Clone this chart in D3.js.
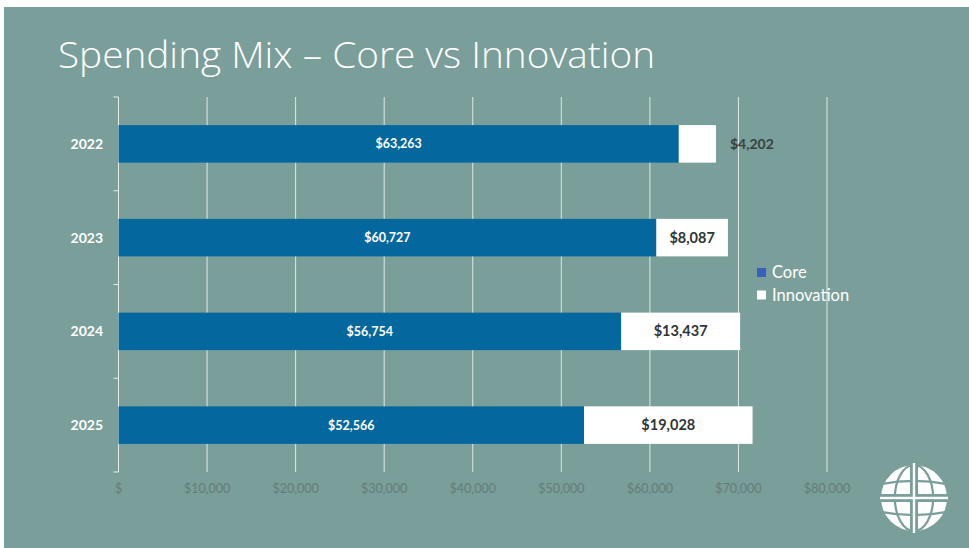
<!DOCTYPE html>
<html>
    <head>
        <title>Spending Mix</title>
        <meta charset="UTF-8">
        <script src="https://cdn.jsdelivr.net/npm/d3@7"></script>
        <style>
            body { margin: 0; background: #fff; }
            text { font-family: Lato, "Open Sans", sans-serif; }
        </style>
    </head>
    <body>
        <svg width="969" height="548"></svg>
        <script>
            // data
            var years = ['2022', '2023', '2024', '2025'];
            var core = [63263, 60727, 56754, 52566];
            var innovation = [4202, 8087, 13437, 19028];
            var seriesNames = ['Core', 'Innovation'];
            var xTicks = [0, 10000, 20000, 30000, 40000, 50000, 60000, 70000, 80000];

            var svg = d3.select('svg');
            var coreColor = '#04679e',
                innoColor = '#ffffff',
                bgColor = '#7a9e99';

            // slide background (thin white border top/left)
            svg.append('rect').attr('x', 4).attr('y', 7).attr('width', 965).attr('height', 541).attr('fill', bgColor);

            // title
            svg.append('text')
                .attr('x', 58).attr('y', 68)
                .attr('fill', '#fff')
                .style('font-family', '"Open Sans", sans-serif')
                .style('font-size', '36px')
                .style('font-weight', 300)
                .attr('textLength', 597)
                .attr('lengthAdjust', 'spacingAndGlyphs')
                .text('Spending Mix \u2013 Core vs Innovation');

            var x = d3.scaleLinear().domain([0, 80000]).range([118.5, 827]);
            var y = d3.scaleBand().domain(years).range([97, 472]).paddingInner(0.6).paddingOuter(0.3);

            var plotTop = 97, plotBottom = 472;

            // gridlines
            svg.append('g').selectAll('line')
                .data(xTicks.slice(1))
                .enter().append('line')
                .attr('x1', function(d) { return x(d); })
                .attr('x2', function(d) { return x(d); })
                .attr('y1', plotTop).attr('y2', plotBottom)
                .attr('stroke', '#dfe9e7').attr('stroke-width', 1);

            // category axis line + ticks between categories
            var yAxis = svg.append('g');
            yAxis.append('line')
                .attr('x1', x(0)).attr('x2', x(0))
                .attr('y1', plotTop).attr('y2', plotBottom)
                .attr('stroke', '#e4ecea').attr('stroke-width', 1);
            var step = y.step();
            yAxis.selectAll('.tk')
                .data(d3.range(years.length + 1))
                .enter().append('line')
                .attr('class', 'tk')
                .attr('x1', x(0) - 5).attr('x2', x(0))
                .attr('y1', function(i) { return plotTop + i * step; })
                .attr('y2', function(i) { return plotTop + i * step; })
                .attr('stroke', '#e4ecea').attr('stroke-width', 1);

            yAxis.selectAll('.yl')
                .data(years)
                .enter().append('text')
                .attr('class', 'yl')
                .attr('x', 103)
                .attr('y', function(d) { return y(d) + y.bandwidth() / 2; })
                .attr('dy', '0.35em')
                .attr('text-anchor', 'end')
                .attr('fill', '#fff')
                .style('font-size', '14px')
                .style('font-weight', 700)
                .text(function(d) { return d; });

            // x tick labels
            var money = d3.format(',');
            svg.append('g').selectAll('text')
                .data(xTicks)
                .enter().append('text')
                .attr('x', function(d) { return x(d); })
                .attr('y', 493)
                .attr('text-anchor', 'middle')
                .attr('fill', '#637d7b')
                .style('font-size', '12.5px')
                .text(function(d) { return d === 0 ? '$' : '$' + money(d); });

            var rows = years.map(function(yr, i) {
                return { year: yr, core: core[i], inno: innovation[i] };
            });

            var bar = svg.append('g').selectAll('g')
                .data(rows)
                .enter().append('g');

            bar.append('rect')
                .attr('x', x(0))
                .attr('y', function(d) { return y(d.year); })
                .attr('width', function(d) { return x(d.core) - x(0); })
                .attr('height', y.bandwidth())
                .attr('fill', coreColor);

            bar.append('rect')
                .attr('x', function(d) { return x(d.core); })
                .attr('y', function(d) { return y(d.year); })
                .attr('width', function(d) { return x(d.core + d.inno) - x(d.core); })
                .attr('height', y.bandwidth())
                .attr('fill', innoColor);

            bar.append('text')
                .attr('x', function(d) { return (x(0) + x(d.core)) / 2; })
                .attr('y', function(d) { return y(d.year) + y.bandwidth() / 2; })
                .attr('dy', '0.35em')
                .attr('text-anchor', 'middle')
                .attr('fill', '#fff')
                .style('font-size', '12.5px')
                .style('font-weight', 700)
                .text(function(d) { return '$' + money(d.core); });

            bar.append('text')
                .each(function(d) {
                    var w = x(d.core + d.inno) - x(d.core);
                    var t = d3.select(this)
                        .attr('y', y(d.year) + y.bandwidth() / 2)
                        .attr('dy', '0.35em')
                        .style('font-weight', 700)
                        .text('$' + money(d.inno));
                    if (w < 60) {
                        // too narrow, put it outside the bar
                        t.attr('x', x(d.core + d.inno) + 14)
                         .attr('text-anchor', 'start')
                         .attr('fill', '#37423f')
                         .style('font-size', '14px');
                    } else {
                        t.attr('x', (x(d.core) + x(d.core + d.inno)) / 2)
                         .attr('text-anchor', 'middle')
                         .attr('fill', '#2f3536')
                         .style('font-size', '14.5px');
                    }
                });

            // legend
            var legend = svg.append('g').selectAll('g')
                .data(seriesNames)
                .enter().append('g')
                .attr('transform', function(d, i) { return 'translate(757,' + (268 + i * 22.5) + ')'; });
            legend.append('rect')
                .attr('width', 9).attr('height', 9)
                .attr('fill', function(d, i) { return i === 0 ? '#3a60bf' : '#fff'; });
            legend.append('text')
                .attr('x', 15).attr('y', 10)
                .attr('fill', '#fff')
                .style('font-size', '16.5px')
                .text(function(d) { return d; });

            // globe logo, bottom right
            var cx = 914, cy = 498, r = 33;
            var logo = svg.append('g').attr('transform', 'translate(' + cx + ',' + cy + ')');
            logo.append('circle').attr('r', r).attr('fill', '#fff');
            var seams = logo.append('g').attr('fill', 'none').attr('stroke', bgColor).attr('stroke-width', 2.2);
            seams.append('ellipse').attr('rx', r * 0.58).attr('ry', r);
            seams.append('path').attr('d', 'M' + (-r) + ',' + (-r * 0.42) + ' Q0,' + (-r * 0.62) + ' ' + r + ',' + (-r * 0.42));
            seams.append('path').attr('d', 'M' + (-r) + ',' + (r * 0.42) + ' Q0,' + (r * 0.62) + ' ' + r + ',' + (r * 0.42));
            logo.append('rect').attr('x', -4).attr('y', -r - 2).attr('width', 8).attr('height', 2 * r + 4).attr('fill', bgColor);
            logo.append('rect').attr('x', -r - 2).attr('y', -4).attr('width', 2 * r + 4).attr('height', 8).attr('fill', bgColor);
            logo.append('rect').attr('x', -1.2).attr('y', -r - 2).attr('width', 2.4).attr('height', 2 * r + 4).attr('fill', '#fff');
            logo.append('rect').attr('x', -r - 1).attr('y', -1.2).attr('width', 2 * r + 2).attr('height', 2.4).attr('fill', '#fff');
        </script>
    </body>
</html>
